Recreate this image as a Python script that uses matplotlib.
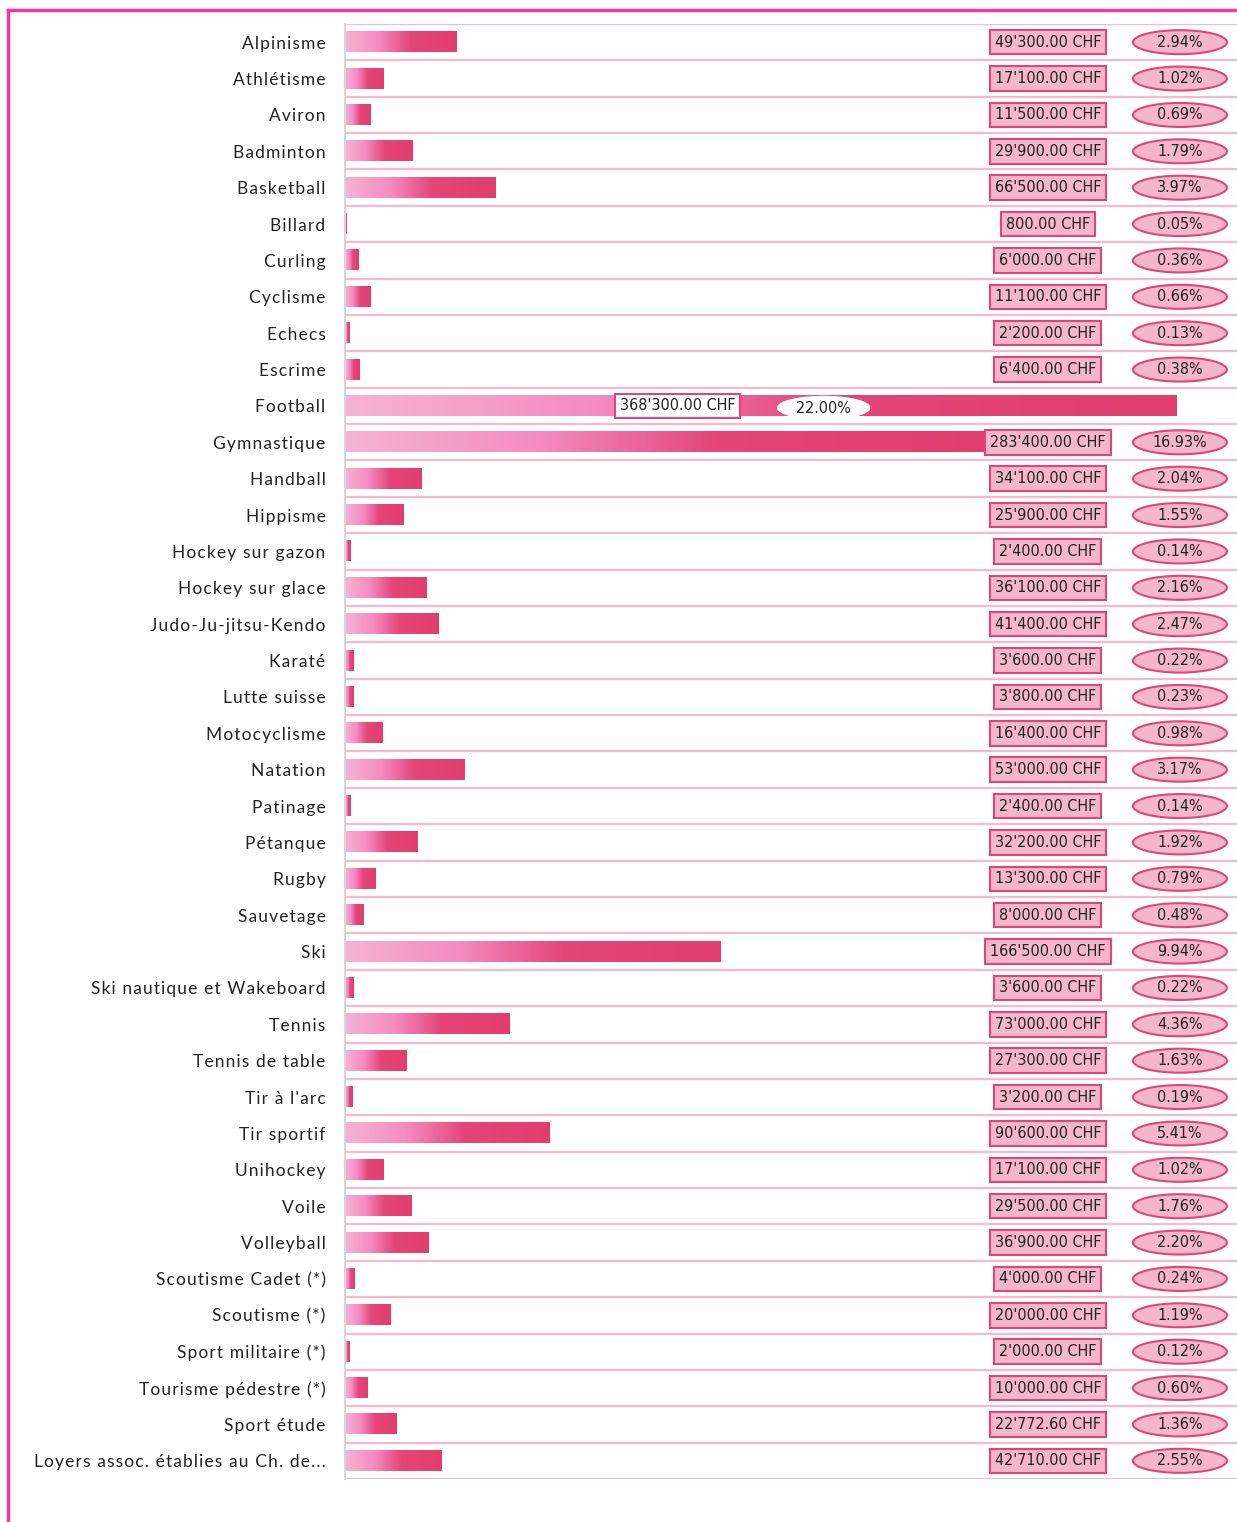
import numpy as np
import matplotlib.pyplot as plt
from matplotlib.colors import LinearSegmentedColormap
from matplotlib.lines import Line2D
from matplotlib.patches import Ellipse

categories = [
    "Alpinisme", "Athlétisme", "Aviron", "Badminton", "Basketball", "Billard",
    "Curling", "Cyclisme", "Echecs", "Escrime", "Football", "Gymnastique",
    "Handball", "Hippisme", "Hockey sur gazon", "Hockey sur glace",
    "Judo-Ju-jitsu-Kendo", "Karaté", "Lutte suisse", "Motocyclisme", "Natation",
    "Patinage", "Pétanque", "Rugby", "Sauvetage", "Ski",
    "Ski nautique et Wakeboard", "Tennis", "Tennis de table", "Tir à l'arc",
    "Tir sportif", "Unihockey", "Voile", "Volleyball", "Scoutisme Cadet (*)",
    "Scoutisme (*)", "Sport militaire (*)", "Tourisme pédestre (*)",
    "Sport étude", "Loyers assoc. établies au Ch. de...",
]
amounts = [
    49300, 17100, 11500, 29900, 66500, 800, 6000, 11100, 2200, 6400,
    368300, 283400, 34100, 25900, 2400, 36100, 41400, 3600, 3800, 16400,
    53000, 2400, 32200, 13300, 8000, 166500, 3600, 73000, 27300, 3200,
    90600, 17100, 29500, 36900, 4000, 20000, 2000, 10000, 22772.60, 42710,
]
percents = [
    2.94, 1.02, 0.69, 1.79, 3.97, 0.05, 0.36, 0.66, 0.13, 0.38,
    22.00, 16.93, 2.04, 1.55, 0.14, 2.16, 2.47, 0.22, 0.23, 0.98,
    3.17, 0.14, 1.92, 0.79, 0.48, 9.94, 0.22, 4.36, 1.63, 0.19,
    5.41, 1.02, 1.76, 2.20, 0.24, 1.19, 0.12, 0.60, 1.36, 2.55,
]


def chf(v):
    return f"{v:,.2f}".replace(",", "'") + " CHF"


def spaced(s):
    return "\u200a".join(s)


fig = plt.figure(figsize=(12.37, 15.22), dpi=100)
ax = fig.add_axes([345 / 1237, 1 - 1479 / 1522, 892 / 1237, 1455 / 1522])
ytr = ax.get_yaxis_transform()

cmap = LinearSegmentedColormap.from_list(
    "pinkbar", [(0, "#f6b3d3"), (0.3, "#f48cc0"), (0.58, "#e4467a"), (1, "#e23d6f")])
grad = np.linspace(0, 1, 256).reshape(1, -1)

n = len(categories)
h = 0.55
for i, v in enumerate(amounts):
    ax.imshow(grad, extent=[0, v, i + h / 2, i - h / 2], aspect="auto",
              cmap=cmap, zorder=2, interpolation="bilinear")

ax.set_xlim(0, 395300)
ax.set_ylim(n - 0.5, -0.5)

for yy in np.arange(n + 1) - 0.5:
    ax.axhline(yy, color="#f5b8cd", lw=1.6, zorder=1)

ax.set_yticks(np.arange(n))
ax.set_yticklabels([spaced(c) for c in categories], fontsize=12.5,
                   family=["Lato", "DejaVu Sans"], color="#222222")
ax.tick_params(axis="y", length=0, pad=14)
ax.set_xticks([])
for s in ["top", "right", "bottom"]:
    ax.spines[s].set_visible(False)
ax.spines["left"].set_color("#d6d6d6")
ax.spines["left"].set_linewidth(1.5)

vfont = dict(fontsize=11.5, family="DejaVu Sans", fontstretch="condensed", color="#222222")
big = int(np.argmax(amounts))
for i, (v, p) in enumerate(zip(amounts, percents)):
    if i == big:
        ax.text(v * 0.40, i, chf(v), ha="center", va="center", zorder=4, **vfont,
                bbox=dict(boxstyle="square,pad=0.3", fc="white", ec="#e0457a", lw=1.5))
        ax.add_patch(Ellipse((v * 0.576, i + 0.05), 92 / 892 * 395300, 0.62,
                             fc="white", ec="white", zorder=3))
        ax.text(v * 0.576, i + 0.08, f"{p:.2f}%", ha="center", va="center", zorder=4, **vfont)
        continue
    ax.text(0.788, i, chf(v), ha="center", va="center", transform=ytr, zorder=4, **vfont,
            bbox=dict(boxstyle="square,pad=0.3", fc="#f3b6cb", ec="#e0457a", lw=1.5))
    ax.add_patch(Ellipse((0.936, i), 94 / 892, 0.66, transform=ytr,
                         fc="#f3b6cb", ec="#e0457a", lw=1.5, zorder=3))
    ax.text(0.936, i, f"{p:.2f}%", ha="center", va="center", transform=ytr,
            zorder=4, **vfont)

# magenta frame on top and left
fig.add_artist(Line2D([8 / 1237, 1], [1 - 10 / 1522, 1 - 10 / 1522],
                      transform=fig.transFigure, color="#ff3399", lw=2.4))
fig.add_artist(Line2D([8 / 1237, 8 / 1237], [0, 1 - 10 / 1522],
                      transform=fig.transFigure, color="#ff3399", lw=2.4))

fig.savefig("out.png", dpi=100)
